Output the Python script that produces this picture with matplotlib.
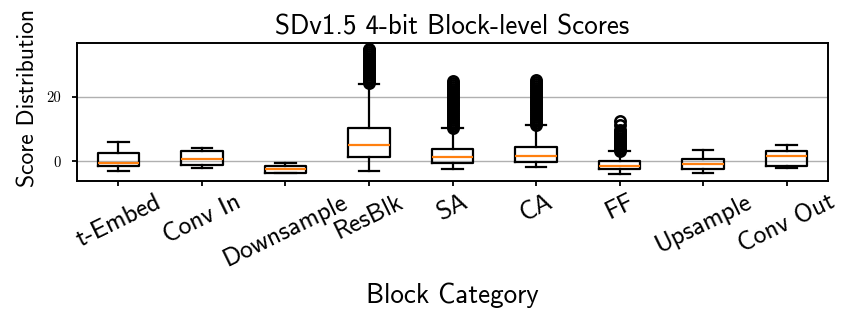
import matplotlib
matplotlib.use("Agg")
import matplotlib.pyplot as plt

plt.rcParams["font.family"] = ["cmss10", "DejaVu Sans"]
plt.rcParams["axes.unicode_minus"] = False

categories = ["t-Embed", "Conv In", "Downsample", "ResBlk", "SA", "CA", "FF", "Upsample", "Conv Out"]
whislo = [-3.0, -1.9, -3.6, -2.9, -2.3, -1.7, -3.9, -3.5, -1.9]
q1 = [-1.4, -1.2, -3.5, 1.4, -0.5, -0.1, -2.3, -2.3, -1.4]
med = [-0.6, 0.7, -2.5, 5.1, 1.4, 1.7, -1.4, -0.8, 1.7]
q3 = [2.7, 3.1, -1.4, 10.5, 3.9, 4.5, 0.0, 0.7, 3.3]
whishi = [5.9, 4.2, -0.5, 24.0, 10.3, 11.2, 3.1, 3.6, 5.2]
fliers = [
    [],
    [],
    [],
    [24.4, 25.0, 25.6, 26.2, 26.8, 27.4, 28.0, 28.6, 29.2, 29.8, 30.4, 31.0, 31.6, 32.2, 32.8, 33.4, 34.0, 34.5, 35.0],
    [10.5, 11.1, 11.7, 12.3, 12.9, 13.5, 14.1, 14.7, 15.3, 15.9, 16.5, 17.1, 17.7, 18.3, 18.9, 19.5, 20.1, 20.7, 21.3, 21.9, 22.5, 23.1, 23.7, 24.3, 24.9],
    [11.4, 12.0, 12.6, 13.2, 13.8, 14.4, 15.0, 15.6, 16.2, 16.8, 17.4, 18.0, 18.6, 19.2, 19.8, 20.4, 21.0, 21.6, 22.2, 22.8, 23.4, 24.0, 24.6, 25.3],
    [3.3, 3.8, 4.3, 4.8, 5.3, 5.8, 6.3, 6.8, 7.3, 7.8, 8.3, 8.8, 9.3, 9.7, 11.3, 12.6],
    [],
    [],
]

stats = []
for i in range(len(categories)):
    stats.append({"label": categories[i], "whislo": whislo[i], "q1": q1[i], "med": med[i],
                  "q3": q3[i], "whishi": whishi[i], "fliers": fliers[i]})

fig = plt.figure(figsize=(8.55, 3.22), dpi=100, facecolor="white")
ax = fig.add_axes([0.0897, 0.4388, 0.8791, 0.4267])
lw = 1.6
ax.bxp(stats, positions=range(1, len(categories) + 1), widths=0.5,
       boxprops={"linewidth": lw},
       whiskerprops={"linewidth": lw},
       capprops={"linewidth": lw},
       medianprops={"color": "#ff7f0e", "linewidth": lw},
       flierprops={"marker": "o", "markersize": 7.5, "markeredgewidth": 1.8,
                   "markerfacecolor": "none", "markeredgecolor": "black"})
ax.set_ylim(-6.0, 36.7)
ax.set_xlim(0.5, 9.5)
ax.set_yticks([0, 20])
ax.set_yticklabels(["0", "20"], fontfamily="cmr10", fontsize=10.5)
ax.set_xticklabels(categories, rotation=26, fontsize=18.5)
ax.tick_params(width=1.3)
ax.tick_params(axis="y", pad=8)
for s in ax.spines.values():
    s.set_linewidth(1.4)
ax.yaxis.grid(True, color="#b0b0b0", linewidth=1.0)
ax.set_axisbelow(True)
ax.set_title("SDv1.5 4-bit Block-level Scores", fontsize=19.5)
ax.set_xlabel("Block Category", fontsize=19.5)
ax.set_ylabel("Score Distribution", fontsize=17)
ax.yaxis.set_label_coords(-0.05, 0.6)
ax.xaxis.set_label_coords(0.5, -0.74)

fig.savefig("out.png", dpi=100)
